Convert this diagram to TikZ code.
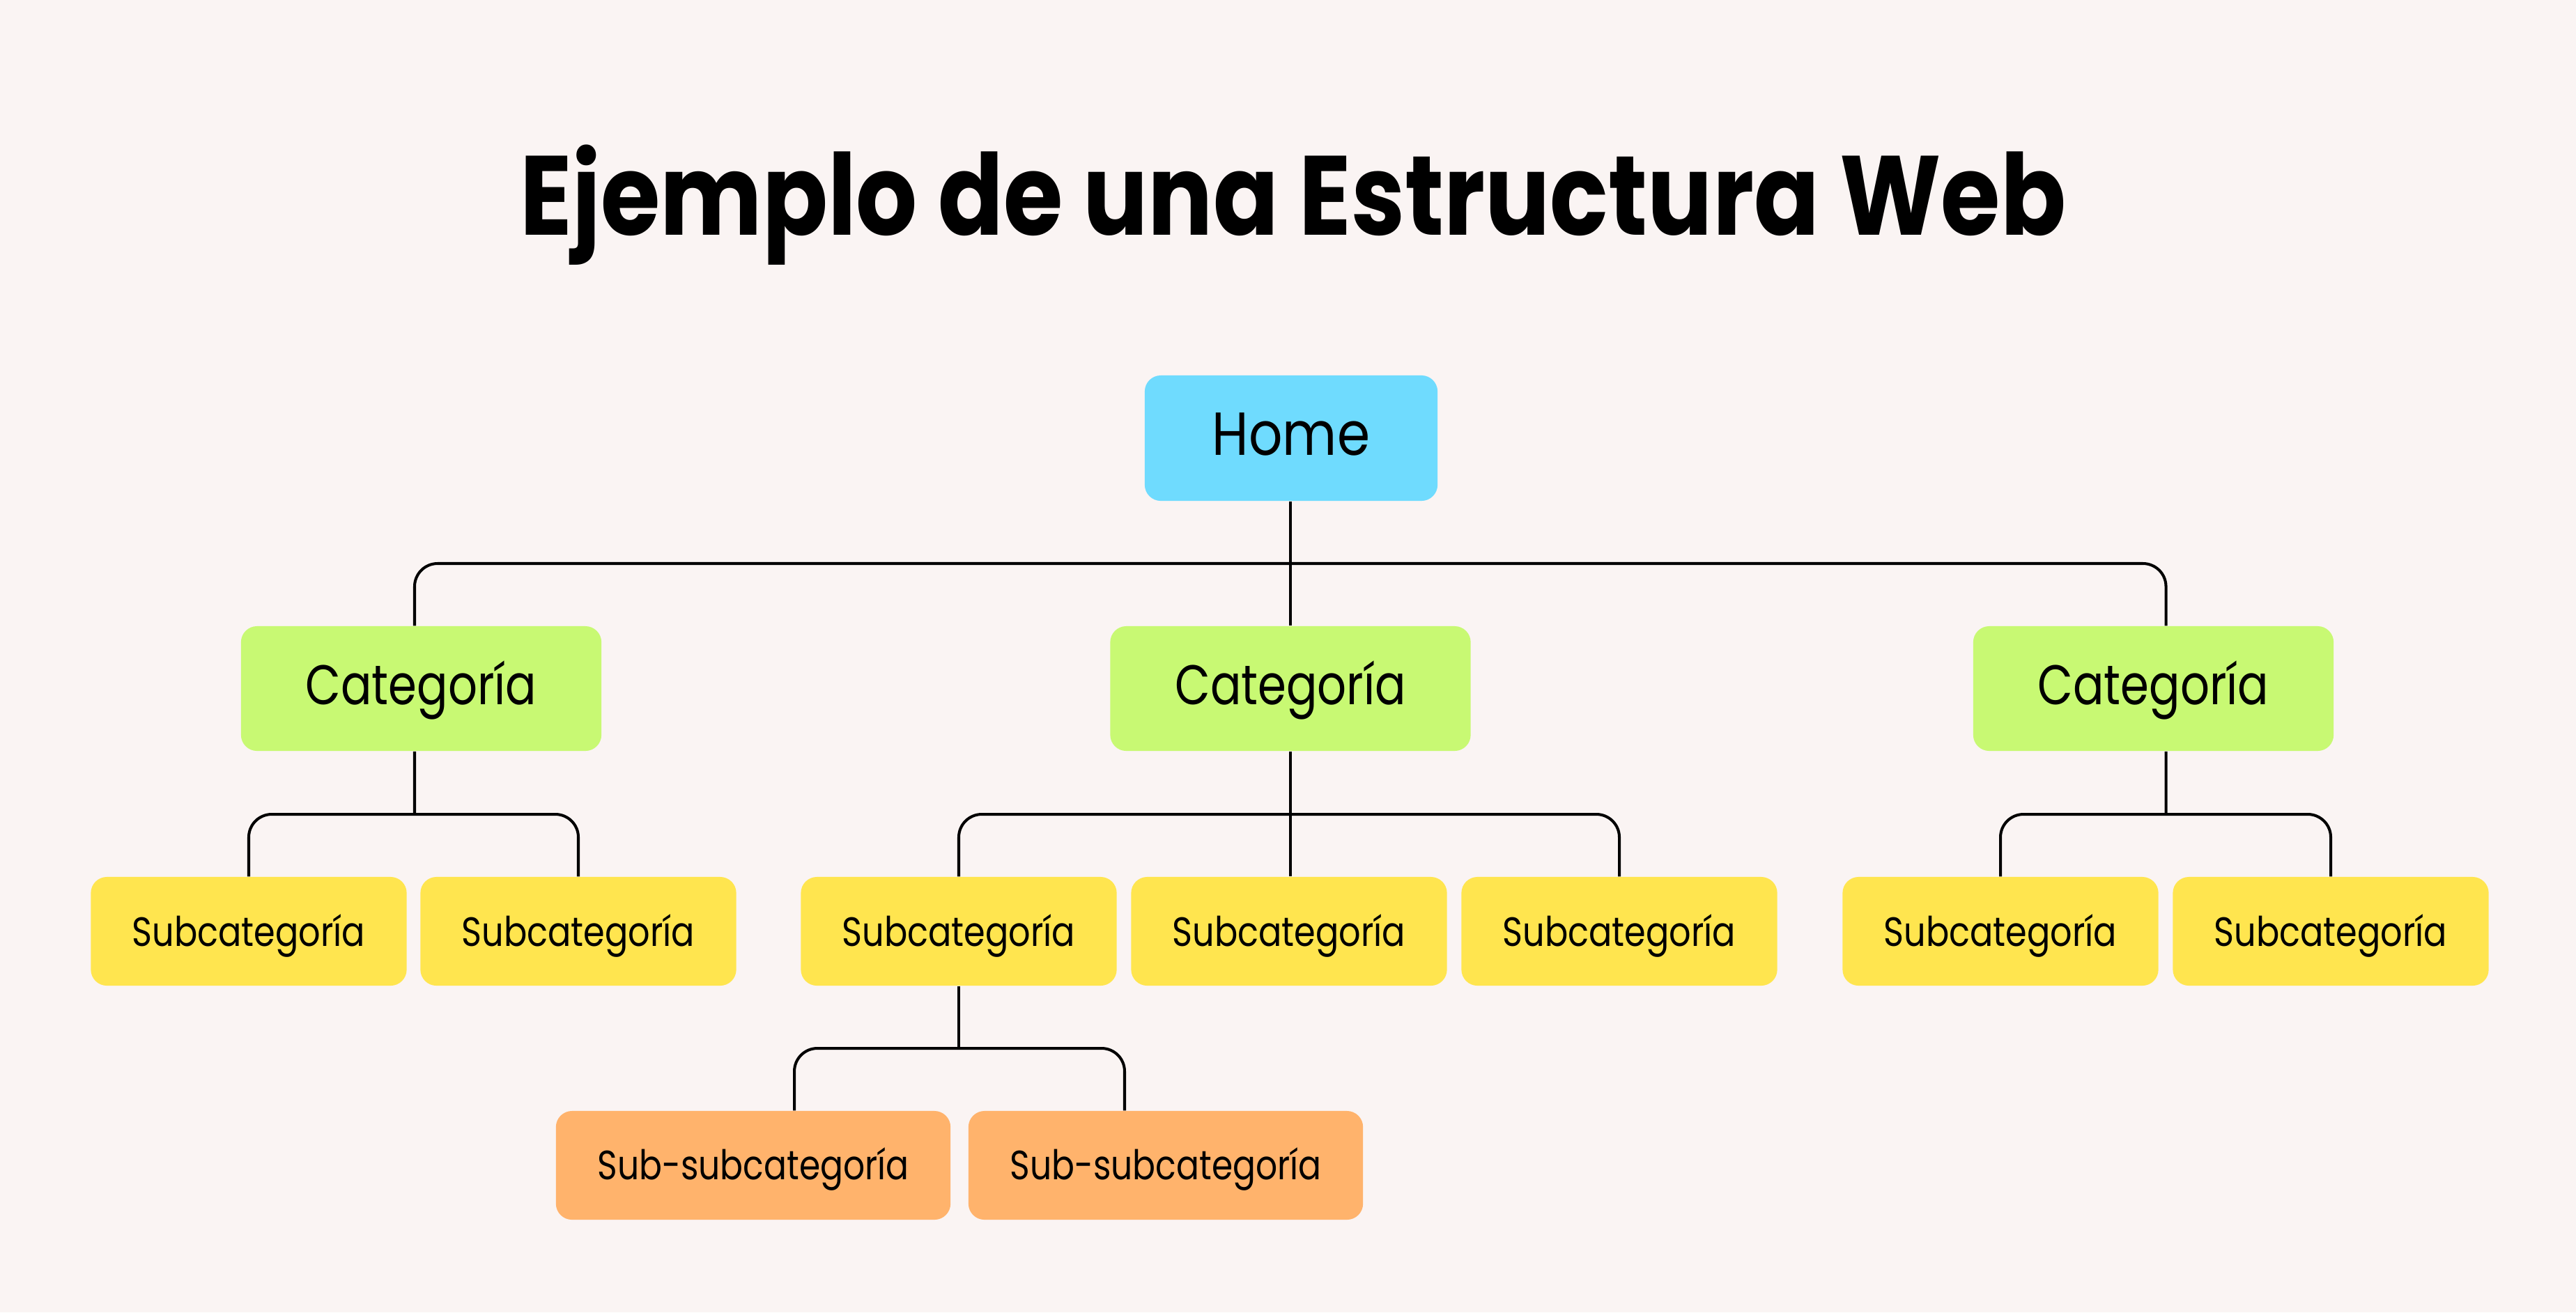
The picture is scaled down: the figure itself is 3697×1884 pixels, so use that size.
\documentclass[tikz,border=0pt]{standalone}
\usepackage{fontspec}
\setmainfont{Poppins}
\newfontfamily\ftitle{Poppins}[FakeStretch=0.855]
\newfontfamily\fhome{Poppins}[FakeStretch=0.87]
\newfontfamily\fcat{Poppins}[FakeStretch=0.82]
\newfontfamily\fsub{Poppins}[FakeStretch=0.84]
\newfontfamily\fssub{Poppins}[FakeStretch=0.83]
\definecolor{bg}{HTML}{FAF4F3}
\definecolor{homec}{HTML}{6FDBFE}
\definecolor{catc}{HTML}{C8F973}
\definecolor{subc}{HTML}{FFE54F}
\definecolor{ssubc}{HTML}{FFB36C}
\tikzset{
  box/.style={rounded corners=0.23cm, inner sep=0pt, text depth=0pt, align=center},
  homebox/.style={box, fill=homec, minimum width=4.20cm, minimum height=1.80cm,
    text height=0.48cm, font=\fhome\fontsize{24.8}{26}\selectfont},
  catbox/.style={box, fill=catc, minimum width=5.17cm, minimum height=1.79cm,
    text height=0.45cm, font=\fcat\fontsize{22.8}{24}\selectfont},
  subbox/.style={box, fill=subc, minimum width=4.53cm, minimum height=1.56cm,
    text height=0.42cm, font=\fsub\fontsize{16.7}{18}\selectfont},
  ssbox/.style={box, fill=ssubc, minimum width=5.66cm, minimum height=1.56cm,
    text height=0.40cm, font=\fssub\fontsize{16.7}{18}\selectfont},
  link/.style={line width=1.15pt, rounded corners=0.33cm},
  titlestyle/.style={inner sep=0pt, text height=1.13cm, text depth=0pt,
    font=\ftitle\fontsize{46}{50}\selectfont\bfseries}
}
\begin{document}
\begin{tikzpicture}[x=0.01cm, y=-0.01cm]
  \fill[bg] (0,0) rectangle (3697,1884);
  \useasboundingbox (0,0) rectangle (3697,1884);

  \node[titlestyle] (title) at (1856,281) {Ejemplo de una Estructura Web};

  \node[homebox] (home) at (1853,629) {Home};

  \node[catbox] (cat1) at (604.5,988.5) {Categoría};
  \node[catbox] (cat2) at (1852,988.5) {Categoría};
  \node[catbox] (cat3) at (3090.5,988.5) {Categoría};

  \node[subbox] (s1) at (357,1337) {Subcategoría};
  \node[subbox] (s2) at (830,1337) {Subcategoría};
  \node[subbox] (s3) at (1376,1337) {Subcategoría};
  \node[subbox] (s4) at (1850,1337) {Subcategoría};
  \node[subbox] (s5) at (2324,1337) {Subcategoría};
  \node[subbox] (s6) at (2871,1337) {Subcategoría};
  \node[subbox] (s7) at (3345,1337) {Subcategoría};

  \node[ssbox] (ss1) at (1081,1673) {Sub-subcategoría};
  \node[ssbox] (ss2) at (1673,1673) {Sub-subcategoría};

  \coordinate (bus1) at (1852,809);
  \coordinate (bus2a) at (595,1169);
  \coordinate (bus2b) at (1852,1169);
  \coordinate (bus2c) at (3108.5,1169);
  \coordinate (bus3) at (1377,1505);

  % level 1
  \draw[link] (cat2.north) -- (cat2.north |- home.south);
  \draw[link] ([xshift=-0.095cm]cat1.north) |- (bus1) -| ([xshift=0.18cm]cat3.north);

  % level 2
  \draw[link] ([xshift=-0.095cm]cat1.south) -- (bus2a);
  \draw[link] (s1.north) |- (bus2a) -| (s2.north);
  \draw[link] (cat2.south) -- (cat2.south |- s4.north);
  \draw[link] (s3.north) |- (bus2b) -| (s5.north);
  \draw[link] ([xshift=0.18cm]cat3.south) -- (bus2c);
  \draw[link] (s6.north) |- (bus2c) -| (s7.north);

  % level 3
  \draw[link] (s3.south) -- (s3.south |- bus3);
  \draw[link] ([xshift=0.59cm]ss1.north) |- (bus3) -| ([xshift=-0.59cm]ss2.north);
\end{tikzpicture}
\end{document}
